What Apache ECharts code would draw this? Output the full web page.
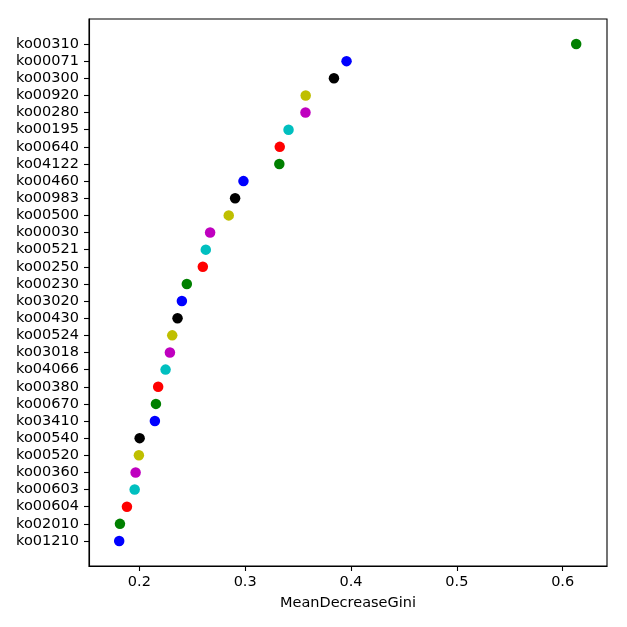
<!DOCTYPE html>
<html>
<head>
<meta charset="utf-8">
<script src="https://cdn.jsdelivr.net/npm/echarts@6/dist/echarts.min.js"></script>
<style>
html,body{margin:0;padding:0;background:#fff;}
#chart{width:627px;height:627px;}
</style>
</head>
<body>
<div id="chart"></div>
<script>
// Categories from bottom to top
const categories = [
  'ko01210','ko02010','ko00604','ko00603','ko00360','ko00520','ko00540','ko03410',
  'ko00670','ko00380','ko04066','ko03018','ko00524','ko00430','ko03020','ko00230',
  'ko00250','ko00521','ko00030','ko00500','ko00983','ko00460','ko04122','ko00640',
  'ko00195','ko00280','ko00920','ko00300','ko00071','ko00310'
];
const meanDecreaseGini = [
  0.181, 0.1817, 0.1883, 0.1956, 0.1965, 0.1996, 0.2003, 0.2147,
  0.2157, 0.2178, 0.2248, 0.2289, 0.2311, 0.2361, 0.2402, 0.2449,
  0.2600, 0.2628, 0.2669, 0.2845, 0.2905, 0.2984, 0.3323, 0.3327,
  0.3410, 0.3570, 0.3572, 0.3839, 0.3958, 0.6128
];
const xTicks = [0.2, 0.3, 0.4, 0.5, 0.6];
const xAxisTitle = 'MeanDecreaseGini';

const palette = ['#0000ff','#008000','#ff0000','#00bfbf','#bf00bf','#bfbf00','#000000'];
const font = 'DejaVu Sans';

const chart = echarts.init(document.getElementById('chart'), null, {renderer: 'canvas'});
const yIdx = categories.map((c, i) => i);

chart.setOption({
  animation: false,
  backgroundColor: '#ffffff',
  grid: {left: 89, right: 20, top: 19, bottom: 61, show: true, borderColor: '#000', borderWidth: 1.1, backgroundColor: 'transparent'},
  xAxis: {
    type: 'value',
    min: 0.15245,
    max: 0.6419,
    name: xAxisTitle,
    nameLocation: 'middle',
    nameGap: 30,
    nameTextStyle: {fontFamily: font, fontSize: 14.5, color: '#000'},
    axisLine: {show: true, onZero: false, lineStyle: {color: '#000', width: 1.1}},
    axisTick: {show: true, length: 5, lineStyle: {color: '#000', width: 1.1}, customValues: xTicks},
    axisLabel: {fontFamily: font, fontSize: 14.5, color: '#000', margin: 9, customValues: xTicks,
      formatter: v => Number(v).toFixed(1)},
    splitLine: {show: false}
  },
  yAxis: {
    type: 'value',
    min: -1.46,
    max: categories.length - 1 + 1.46,
    axisLine: {show: true, onZero: false, lineStyle: {color: '#000', width: 1.1}},
    axisTick: {show: true, length: 5, lineStyle: {color: '#000', width: 1.1}, customValues: yIdx},
    axisLabel: {fontFamily: font, fontSize: 14.5, color: '#000', margin: 10, customValues: yIdx,
      formatter: v => categories[Math.round(v)] || ''},
    splitLine: {show: false}
  },
  series: [{
    type: 'scatter',
    symbol: 'circle',
    symbolSize: 10.5,
    data: meanDecreaseGini.map((v, i) => ({
      value: [v, i],
      itemStyle: {color: palette[i % palette.length], opacity: 1}
    }))
  }]
});
</script>
</body>
</html>
